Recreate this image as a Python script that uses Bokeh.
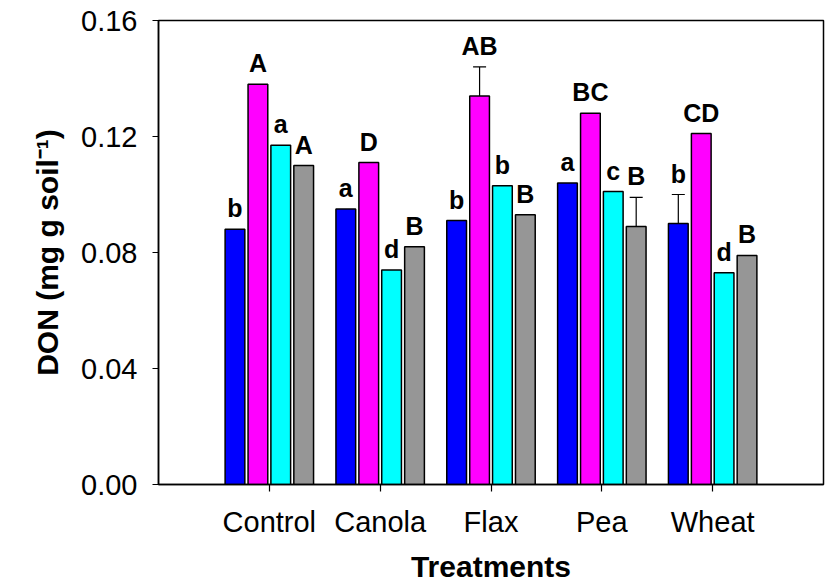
from bokeh.plotting import figure
from bokeh.models import ColumnDataSource, FixedTicker, Whisker, TeeHead, NumeralTickFormatter
from bokeh.core.properties import value
from bokeh.embed import file_html
from bokeh.resources import INLINE

categories = ["Control", "Canola", "Flax", "Pea", "Wheat"]
s1 = [0.088, 0.095, 0.091, 0.104, 0.090]
s2 = [0.138, 0.111, 0.134, 0.128, 0.121]
s3 = [0.117, 0.074, 0.103, 0.101, 0.073]
s4 = [0.110, 0.082, 0.093, 0.089, 0.079]
e1 = [0.0, 0.0, 0.0, 0.0, 0.010]
e2 = [0.0, 0.0, 0.010, 0.0, 0.0]
e3 = [0.0, 0.0, 0.0, 0.0, 0.0]
e4 = [0.0, 0.0, 0.0, 0.010, 0.0]
l1 = ["b", "a", "b", "a", "b"]
l2 = ["A", "D", "AB", "BC", "CD"]
l3 = ["a", "d", "b", "c", "d"]
l4 = ["A", "B", "B", "B", "B"]
y_ticks = [0.0, 0.04, 0.08, 0.12, 0.16]

colors = ["#0000FF", "#FF00FF", "#00FFFF", "#969696"]
offsets = [-0.31, -0.103, 0.103, 0.31]
bar_w = 0.178

p = figure(width=829, height=587, output_backend="svg", toolbar_location=None,
           x_range=(0, 6), y_range=(0, 0.16),
           min_border_left=158, min_border_right=6, min_border_top=20, min_border_bottom=103)
p.grid.visible = False
p.outline_line_color = "black"
p.outline_line_width = 1.5
p.background_fill_color = "white"

for vals, errs, labs, col, off in zip([s1, s2, s3, s4], [e1, e2, e3, e4], [l1, l2, l3, l4], colors, offsets):
    xs = [i + 1 + off for i in range(len(categories))]
    tops = [v + e for v, e in zip(vals, errs)]
    src = ColumnDataSource(dict(x=xs, top=vals, hi=tops, lab=labs))
    p.vbar(x="x", top="top", bottom=0, width=bar_w, source=src,
           fill_color=col, line_color="black", line_width=1.5)
    has = [i for i, e in enumerate(errs) if e > 0]
    if has:
        esrc = ColumnDataSource(dict(x=[xs[i] for i in has], lo=[vals[i] - errs[i] for i in has],
                                     hi=[vals[i] + errs[i] for i in has]))
        w = Whisker(base="x", lower="lo", upper="hi", source=esrc, dimension="height",
                    line_color="black", line_width=1.2,
                    upper_head=TeeHead(size=13, line_color="black", line_width=1.2),
                    lower_head=TeeHead(size=13, line_color="black", line_width=1.2))
        p.add_layout(w)
    p.text(x="x", y="hi", text="lab", source=src, text_align="center", text_baseline="bottom",
           y_offset=-7, text_font=value("Liberation Sans"), text_font_style="bold",
           text_font_size="25px", text_color="black")

p.xaxis.ticker = FixedTicker(ticks=[1, 2, 3, 4, 5])
p.xaxis.major_label_overrides = {i + 1: c for i, c in enumerate(categories)}
p.xaxis.minor_tick_line_color = None
p.xaxis.major_tick_in = 0
p.xaxis.major_tick_out = 7
p.xaxis.major_label_standoff = 14
p.xaxis.axis_label = "Treatments"
p.xaxis.axis_label_standoff = 9

p.yaxis.ticker = FixedTicker(ticks=y_ticks)
p.yaxis.formatter = NumeralTickFormatter(format="0.00")
p.yaxis.minor_tick_line_color = None
p.yaxis.major_tick_in = 0
p.yaxis.major_tick_out = 6
p.yaxis.major_label_standoff = 15
p.yaxis.axis_label = "DON (mg g soil\u207b\u00b9)"
p.yaxis.axis_label_standoff = 14

for ax in [p.xaxis, p.yaxis]:
    ax.axis_line_color = "black"
    ax.axis_line_width = 1.5
    ax.major_tick_line_color = "black"
    ax.major_tick_line_width = 1.2
    ax.major_label_text_font = "Liberation Sans"
    ax.major_label_text_font_size = "29px"
    ax.major_label_text_color = "black"
    ax.axis_label_text_font = "Liberation Sans"
    ax.axis_label_text_font_style = "bold"
    ax.axis_label_text_color = "black"

p.xaxis.axis_label_text_font_size = "30px"
p.yaxis.axis_label_text_font_size = "30px"

open("out.html", "w").write(file_html(p, INLINE))
